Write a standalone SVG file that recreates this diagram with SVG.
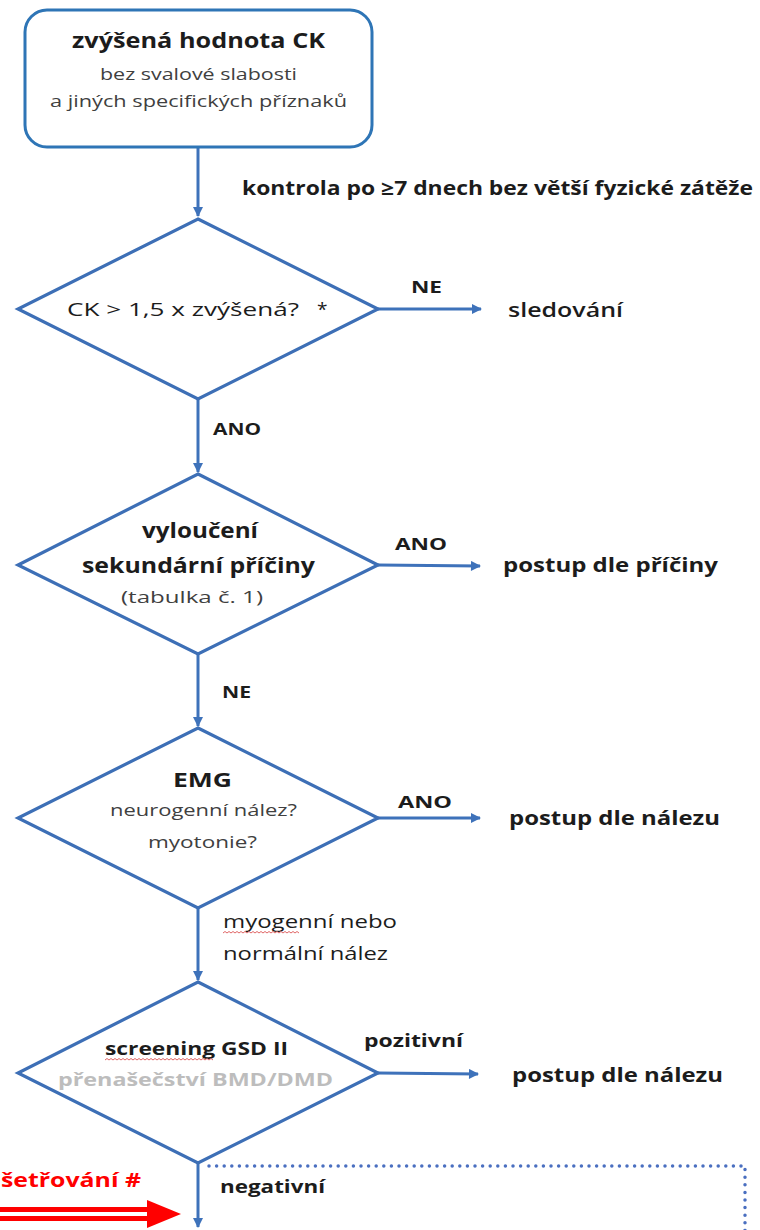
<svg xmlns="http://www.w3.org/2000/svg" width="760" height="1230" viewBox="0 0 760 1230">
<defs>
<style>
.node{fill:#ffffff;stroke:#3D6FB6;stroke-width:3.2;stroke-linejoin:miter}
.box{fill:#ffffff;stroke:#2E75B6;stroke-width:3}
.conn{stroke:#3E72BA;stroke-width:3;fill:none}
.dot{stroke:#4A6FC0;stroke-width:3.5;fill:none;stroke-linecap:round;stroke-dasharray:0 7.6}
.t{font-family:"Open Sans","Liberation Sans",sans-serif;fill:#1c1c1c}
.b{font-weight:bold}
.sb{font-weight:600}
.sub{fill:#404040}
.gray{fill:#BDBDBD}
.red{fill:#FF0000}
.wavy{stroke:#E06666;stroke-width:1;fill:none}
</style>
<marker id="ah" viewBox="0 0 10 10" refX="9" refY="5" markerWidth="11" markerHeight="10" markerUnits="userSpaceOnUse" orient="auto">
<path d="M0,0 L10,5 L0,10 Z" fill="#3E72BA"/>
</marker>
</defs>
<rect width="760" height="1230" fill="#ffffff"/>

<g id="connectors">
<line class="conn" x1="198" y1="147" x2="198" y2="216" marker-end="url(#ah)"/>
<line class="conn" x1="198" y1="399" x2="198" y2="472" marker-end="url(#ah)"/>
<line class="conn" x1="198" y1="654" x2="198" y2="726" marker-end="url(#ah)"/>
<line class="conn" x1="198" y1="908" x2="198" y2="980" marker-end="url(#ah)"/>
<line class="conn" x1="198" y1="1163" x2="198" y2="1227" marker-end="url(#ah)"/>
<line class="conn" x1="378" y1="309" x2="481" y2="309" marker-end="url(#ah)"/>
<line class="conn" x1="378" y1="565" x2="480" y2="566" marker-end="url(#ah)"/>
<line class="conn" x1="378" y1="818" x2="480" y2="818" marker-end="url(#ah)"/>
<line class="conn" x1="378" y1="1073" x2="478" y2="1074" marker-end="url(#ah)"/>
<polyline class="dot" points="209,1166 745,1166 745,1232"/>
<g id="red-arrow">
<rect x="-2" y="1207" width="152" height="14" fill="#FF0000"/>
<rect x="-2" y="1212" width="150" height="4" fill="#ffffff"/>
<polygon points="147,1200 181,1214 147,1228" fill="#FF0000"/>
</g>
<text class="t b" x="242" y="195" font-size="19" textLength="511" lengthAdjust="spacingAndGlyphs">kontrola po ≥7 dnech bez větší fyzické zátěže</text>
<text class="t b" x="411" y="293" font-size="16.5" textLength="31" lengthAdjust="spacingAndGlyphs">NE</text>
<text class="t b" x="213" y="435" font-size="16.5" textLength="48" lengthAdjust="spacingAndGlyphs">ANO</text>
<text class="t b" x="395" y="550" font-size="16.5" textLength="52" lengthAdjust="spacingAndGlyphs">ANO</text>
<text class="t b" x="222" y="698" font-size="16.5" textLength="29" lengthAdjust="spacingAndGlyphs">NE</text>
<text class="t b" x="398" y="808" font-size="16.5" textLength="54" lengthAdjust="spacingAndGlyphs">ANO</text>
<text class="t" x="223" y="928" font-size="17.5" textLength="174" lengthAdjust="spacingAndGlyphs">myogenní nebo</text>
<path class="wavy" d="M223,933 l2,-1.5 l2,1.5 l2,-1.5 l2,1.5 l2,-1.5 l2,1.5 l2,-1.5 l2,1.5 l2,-1.5 l2,1.5 l2,-1.5 l2,1.5 l2,-1.5 l2,1.5 l2,-1.5 l2,1.5 l2,-1.5 l2,1.5 l2,-1.5 l2,1.5 l2,-1.5 l2,1.5 l2,-1.5 l2,1.5 l2,-1.5 l2,1.5 l2,-1.5 l2,1.5 l2,-1.5 l2,1.5 l2,-1.5 l2,1.5 l2,-1.5 l2,1.5 l2,-1.5 l2,1.5 l2,-1.5 l2,1.5"/>
<text class="t" x="223" y="960" font-size="17.5" textLength="165" lengthAdjust="spacingAndGlyphs">normální nález</text>
<text class="t b" x="364" y="1047" font-size="17" textLength="99" lengthAdjust="spacingAndGlyphs">pozitivní</text>
<text class="t b" x="220" y="1193" font-size="18" textLength="105" lengthAdjust="spacingAndGlyphs">negativní</text>
<text class="t b red" x="1" y="1187" font-size="19" textLength="140" lengthAdjust="spacingAndGlyphs">šetřování #</text>
</g>

<g id="start">
<rect class="box" x="25" y="10" width="347" height="137" rx="22" ry="22"/>
<text class="t b" x="72" y="48" font-size="20.5" textLength="253" lengthAdjust="spacingAndGlyphs">zvýšená hodnota CK</text>
<text class="t sub" x="100" y="80" font-size="15.5" textLength="197" lengthAdjust="spacingAndGlyphs">bez svalové slabosti</text>
<text class="t sub" x="50" y="107" font-size="15.5" textLength="297" lengthAdjust="spacingAndGlyphs">a jiných specifických příznaků</text>
</g>

<g id="d1">
<polygon class="node" points="198,219 378,309 198,399 18,309"/>
<text class="t" x="67" y="316" font-size="19" textLength="232" lengthAdjust="spacingAndGlyphs">CK &gt; 1,5 x zvýšená?</text>
<text class="t" x="317" y="316" font-size="19">*</text>
</g>

<g id="sledovani">
<text class="t sb" x="508" y="317" font-size="19" textLength="115" lengthAdjust="spacingAndGlyphs">sledování</text>
</g>

<g id="d2">
<polygon class="node" points="198,474 378,565 198,654 18,565"/>
<text class="t b" x="142" y="538" font-size="21" textLength="116" lengthAdjust="spacingAndGlyphs">vyloučení</text>
<text class="t b" x="82" y="573" font-size="21" textLength="233" lengthAdjust="spacingAndGlyphs">sekundární příčiny</text>
<text class="t sub" x="121" y="603" font-size="15.5" textLength="142" lengthAdjust="spacingAndGlyphs">(tabulka č. 1)</text>
</g>

<g id="postup-priciny">
<text class="t b" x="503" y="572" font-size="19" textLength="215" lengthAdjust="spacingAndGlyphs">postup dle příčiny</text>
</g>

<g id="d3">
<polygon class="node" points="198,728 378,818 198,908 18,818"/>
<text class="t b" x="173" y="787" font-size="20" textLength="59" lengthAdjust="spacingAndGlyphs">EMG</text>
<text class="t sub" x="110" y="816" font-size="15.5" textLength="187" lengthAdjust="spacingAndGlyphs">neurogenní nález?</text>
<text class="t sub" x="148" y="848" font-size="15.5" textLength="109" lengthAdjust="spacingAndGlyphs">myotonie?</text>
</g>

<g id="postup-nalezu-1">
<text class="t b" x="509" y="825" font-size="19" textLength="211" lengthAdjust="spacingAndGlyphs">postup dle nálezu</text>
</g>

<g id="d4">
<polygon class="node" points="198,982 378,1073 198,1163 18,1073"/>
<text class="t b" x="105" y="1055" font-size="18" textLength="183" lengthAdjust="spacingAndGlyphs">screening GSD II</text>
<path class="wavy" d="M105,1060 l2,-1.5 l2,1.5 l2,-1.5 l2,1.5 l2,-1.5 l2,1.5 l2,-1.5 l2,1.5 l2,-1.5 l2,1.5 l2,-1.5 l2,1.5 l2,-1.5 l2,1.5 l2,-1.5 l2,1.5 l2,-1.5 l2,1.5 l2,-1.5 l2,1.5 l2,-1.5 l2,1.5 l2,-1.5 l2,1.5 l2,-1.5 l2,1.5 l2,-1.5 l2,1.5 l2,-1.5 l2,1.5 l2,-1.5 l2,1.5 l2,-1.5 l2,1.5 l2,-1.5 l2,1.5 l2,-1.5 l2,1.5 l2,-1.5 l2,1.5 l2,-1.5 l2,1.5 l2,-1.5 l2,1.5 l2,-1.5 l2,1.5 l2,-1.5 l2,1.5 l2,-1.5 l2,1.5 l2,-1.5 l2,1.5 l2,-1.5 l2,1.5"/>
<text class="t b gray" x="58" y="1086" font-size="18" textLength="275" lengthAdjust="spacingAndGlyphs">přenašečství BMD/DMD</text>
</g>

<g id="postup-nalezu-2">
<text class="t b" x="512" y="1082" font-size="19" textLength="211" lengthAdjust="spacingAndGlyphs">postup dle nálezu</text>
</g>
</svg>
